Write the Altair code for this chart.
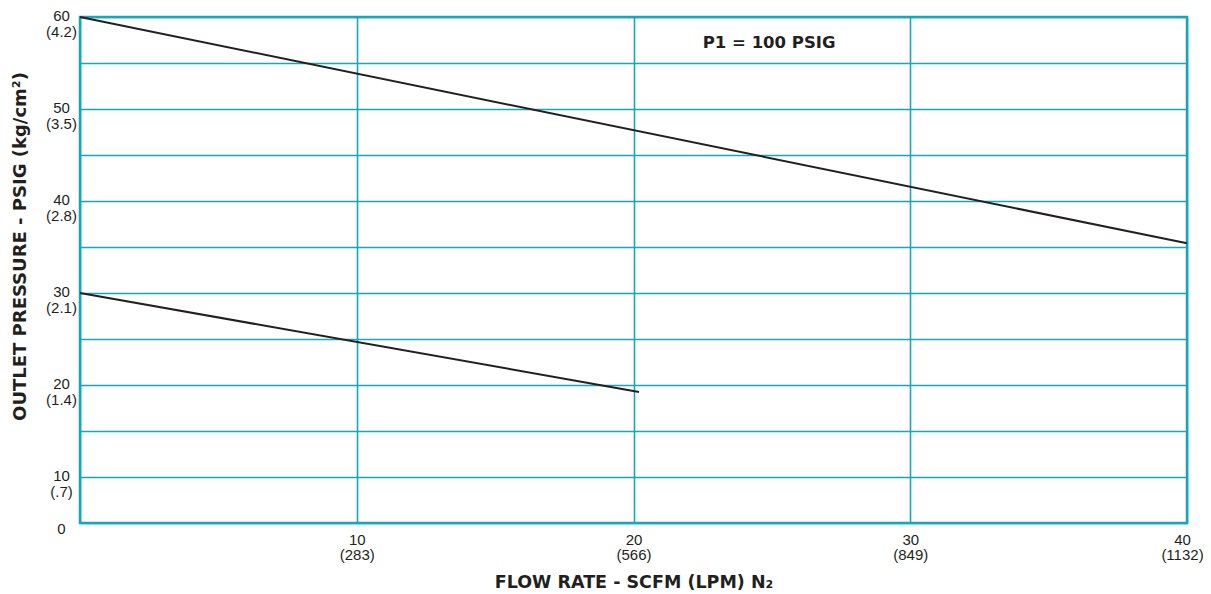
import altair as alt
import pandas as pd

# ---- data ----
upper_flow = [0, 40]
upper_psig = [60, 35.4]
lower_flow = [0, 20.2]
lower_psig = [30, 19.25]

x_ticks = [0, 10, 20, 30, 40]
x_lpm = ["", "283", "566", "849", "1132"]

y_ticks = [5, 10, 15, 20, 25, 30, 35, 40, 45, 50, 55, 60]
y_label_vals = [10, 20, 30, 40, 50, 60]
y_kg = [".7", "1.4", "2.1", "2.8", "3.5", "4.2"]

note_text = ["P1 = 100 PSIG"]
note_flow = [24.9]
note_psig = [57.2]

TEAL = "#17a7b6"
INK = "#231f20"

rows = []
for f, p in zip(upper_flow, upper_psig):
    rows.append({"flow": f, "psig": p, "series": "upper"})
for f, p in zip(lower_flow, lower_psig):
    rows.append({"flow": f, "psig": p, "series": "lower"})
df = pd.DataFrame(rows)
note_df = pd.DataFrame({"flow": note_flow, "psig": note_psig, "text": note_text})

# label expressions
x_expr = "''"
for v, l in zip(reversed(x_ticks), reversed(x_lpm)):
    if l:
        x_expr = f"datum.value == {v} ? ['{v}', '({l})'] : " + x_expr
y_expr = "datum.value == 5 ? '0' : ''"
for v, k in zip(y_label_vals, y_kg):
    y_expr = f"datum.value == {v} ? ['{v}', '({k})'] : " + y_expr

x_scale = alt.Scale(domain=[0, 40], nice=False)
y_scale = alt.Scale(domain=[5, 60], nice=False)

x_axis = alt.Axis(
    values=x_ticks,
    labelExpr=x_expr,
    title="FLOW RATE - SCFM (LPM) N₂",
    titleFont="DejaVu Sans",
    titleFontSize=17.5,
    titleFontWeight="bold",
    titleColor=INK,
    titleX=553.5,
    titleY=59,
    titleBaseline="middle",
    labelPadding=9,
    labelLineHeight=15.5,
    labelFlush=False,
    labelOffset={"condition": {"test": "datum.value == 40", "value": -5}, "value": 0},
)
y_axis = alt.Axis(
    values=y_ticks,
    labelExpr=y_expr,
    title="OUTLET PRESSURE - PSIG (kg/cm²)",
    titleFont="DejaVu Sans",
    titleFontSize=18,
    titleFontWeight="bold",
    titleColor=INK,
    titleX=-60,
    titleY=229,
    titleBaseline="middle",
    labelAlign="center",
    labelBaseline="top",
    labelPadding=19,
    labelLineHeight=16,
    labelOffset={"condition": {"test": "datum.value == 5", "value": -2}, "value": -9},
)

lines = alt.Chart(df).mark_line(color=INK, strokeWidth=2).encode(
    x=alt.X("flow:Q", scale=x_scale, axis=x_axis),
    y=alt.Y("psig:Q", scale=y_scale, axis=y_axis),
    detail="series:N",
)

note = alt.Chart(note_df).mark_text(
    font="DejaVu Sans", fontSize=16.5, fontWeight="bold", color=INK,
    align="center", baseline="middle"
).encode(
    x=alt.X("flow:Q", scale=x_scale),
    y=alt.Y("psig:Q", scale=y_scale),
    text="text:N",
)

chart = (
    alt.layer(lines, note)
    .properties(
        width=1107,
        height=506,
        autosize=alt.AutoSizeParams(type="none"),
        padding={"left": 72, "top": 9, "right": 16, "bottom": 70},
        background="white",
    )
    .configure_view(stroke=TEAL, strokeWidth=2.5)
    .configure_axis(
        domain=False,
        ticks=False,
        grid=True,
        gridColor=TEAL,
        gridWidth=1.6,
        gridOpacity=1,
        labelFont="Liberation Sans",
        labelFontSize=15,
        labelColor=INK,
    )
)

chart.save("out.html", embed_options={"renderer": "svg", "actions": False})
